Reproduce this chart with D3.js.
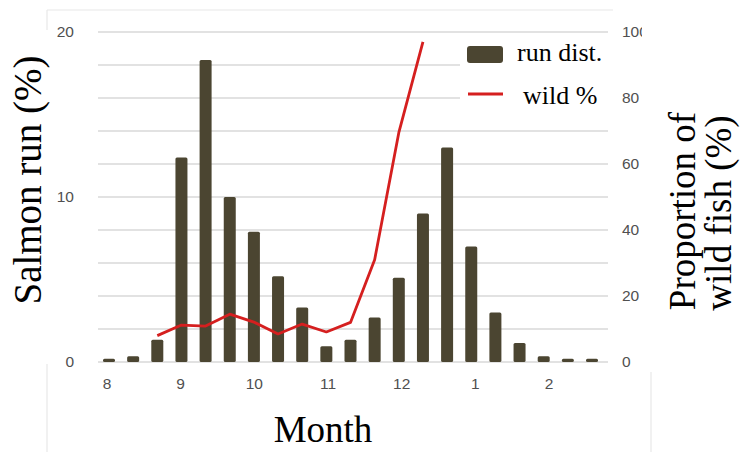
<!DOCTYPE html>
<html>
<head>
<meta charset="utf-8">
<script src="https://cdn.jsdelivr.net/npm/d3@7"></script>
<style>
  body { margin: 0; background: #fff; }
  svg { display: block; }
</style>
</head>
<body>
<div id="chart"></div>
<script>
// ten-day periods, Aug -> Feb
var periods = d3.range(21);
var runDist = [0.2, 0.35, 1.35, 12.4, 18.3, 10.0, 7.9, 5.2, 3.3, 0.95, 1.35, 2.7, 5.1, 9.0, 13.0, 7.0, 3.0, 1.15, 0.35, 0.2, 0.2];
var wildIdx = [2, 3, 4, 5, 6, 7, 8, 9, 10, 11, 12, 13];
var wildPct = [8, 11.2, 10.9, 14.5, 12.1, 8.5, 11.5, 9.1, 12, 31, 69.5, 97];
var monthLabels = ["8", "9", "10", "11", "12", "1", "2"];
var leftTicks = [0, 10, 20];
var rightTicks = [0, 20, 40, 60, 80, 100];

var W = 742, H = 454;
var barCol = "#4b4531", lineCol = "#d51f1f", tickCol = "#505050";

var svg = d3.select("#chart").append("svg")
  .attr("width", W)
  .attr("height", H);

var x = d3.scalePoint().domain(periods).range([109, 592]);
var xm = d3.scalePoint().domain(monthLabels).range([107, 549]);
var yL = d3.scaleLinear().domain([0, 20]).range([362, 32]);
var yR = d3.scaleLinear().domain([0, 100]).range([362, 32]);

// faint frame remnants
var frame = svg.append("g").attr("stroke", "#e8e8e8").attr("stroke-width", 1.2);
frame.append("line").attr("x1", 47).attr("x2", 613).attr("y1", 10).attr("y2", 10);
frame.append("line").attr("x1", 47).attr("x2", 47).attr("y1", 10).attr("y2", 30);
frame.append("line").attr("x1", 47).attr("x2", 47).attr("y1", 364).attr("y2", 452);
frame.append("line").attr("x1", 651).attr("x2", 651).attr("y1", 372).attr("y2", 452);

// gridlines
svg.append("g")
  .selectAll("line")
  .data(yL.ticks(10))
  .enter()
  .append("line")
  .attr("x1", 98)
  .attr("x2", 608)
  .attr("y1", function(d) { return yL(d); })
  .attr("y2", function(d) { return yL(d); })
  .attr("stroke", "#d9d9d9")
  .attr("stroke-width", 1.5);

// bars
svg.append("g")
  .selectAll("rect")
  .data(runDist)
  .enter()
  .append("rect")
  .attr("x", function(d, i) { return x(i) - 6; })
  .attr("y", function(d) { return yL(d); })
  .attr("width", 12)
  .attr("height", function(d) { return yL(0) - yL(d); })
  .attr("rx", 1.5)
  .attr("fill", barCol);

// wild % line
var line = d3.line()
  .x(function(d, i) { return x(wildIdx[i]); })
  .y(function(d) { return yR(d); });

svg.append("path")
  .datum(wildPct)
  .attr("d", line)
  .attr("fill", "none")
  .attr("stroke", lineCol)
  .attr("stroke-width", 2.8)
  .attr("stroke-linejoin", "round");

// tick labels
var tf = "'Liberation Sans', Arial, sans-serif";
svg.append("g")
  .selectAll("text")
  .data(leftTicks)
  .enter()
  .append("text")
  .attr("x", 74)
  .attr("y", function(d) { return yL(d) + 5; })
  .attr("text-anchor", "end")
  .attr("font-family", tf)
  .attr("font-size", 15.5)
  .attr("fill", tickCol)
  .text(function(d) { return d; });

svg.append("g")
  .selectAll("text")
  .data(rightTicks)
  .enter()
  .append("text")
  .attr("x", 622)
  .attr("y", function(d) { return yR(d) + 5; })
  .attr("font-family", tf)
  .attr("font-size", 15.5)
  .attr("fill", tickCol)
  .text(function(d) { return d; });

// the "100" is cut off in the original
svg.append("rect")
  .attr("x", 642).attr("y", 18).attr("width", 20).attr("height", 28)
  .attr("fill", "#fff");

svg.append("g")
  .selectAll("text")
  .data(monthLabels)
  .enter()
  .append("text")
  .attr("x", function(d) { return xm(d); })
  .attr("y", 389)
  .attr("text-anchor", "middle")
  .attr("font-family", tf)
  .attr("font-size", 15.5)
  .attr("fill", tickCol)
  .text(function(d) { return d; });

// legend
var sf = "'Liberation Serif', 'Times New Roman', serif";
svg.append("rect")
  .attr("x", 460).attr("y", 38).attr("width", 150).attr("height", 74)
  .attr("fill", "#fff");
svg.append("rect")
  .attr("x", 467).attr("y", 46).attr("width", 36).attr("height", 17)
  .attr("rx", 3)
  .attr("fill", barCol);
svg.append("text")
  .attr("x", 517).attr("y", 61)
  .attr("font-family", sf).attr("font-size", 26)
  .text("run dist.");
svg.append("line")
  .attr("x1", 468).attr("x2", 503).attr("y1", 94).attr("y2", 94)
  .attr("stroke", lineCol).attr("stroke-width", 3);
svg.append("text")
  .attr("x", 523).attr("y", 104)
  .attr("font-family", sf).attr("font-size", 26)
  .text("wild %");

// axis titles
svg.append("text")
  .attr("transform", "translate(41,180) rotate(-90)")
  .attr("text-anchor", "middle")
  .attr("font-family", sf).attr("font-size", 39)
  .text("Salmon run (%)");

svg.append("text")
  .attr("transform", "translate(695,211) rotate(-90)")
  .attr("text-anchor", "middle")
  .attr("font-family", sf).attr("font-size", 37)
  .text("Proportion of");
svg.append("text")
  .attr("transform", "translate(731,213) rotate(-90)")
  .attr("text-anchor", "middle")
  .attr("font-family", sf).attr("font-size", 37)
  .text("wild fish (%)");

svg.append("text")
  .attr("x", 323).attr("y", 442)
  .attr("text-anchor", "middle")
  .attr("font-family", sf).attr("font-size", 37)
  .text("Month");
</script>
</body>
</html>
